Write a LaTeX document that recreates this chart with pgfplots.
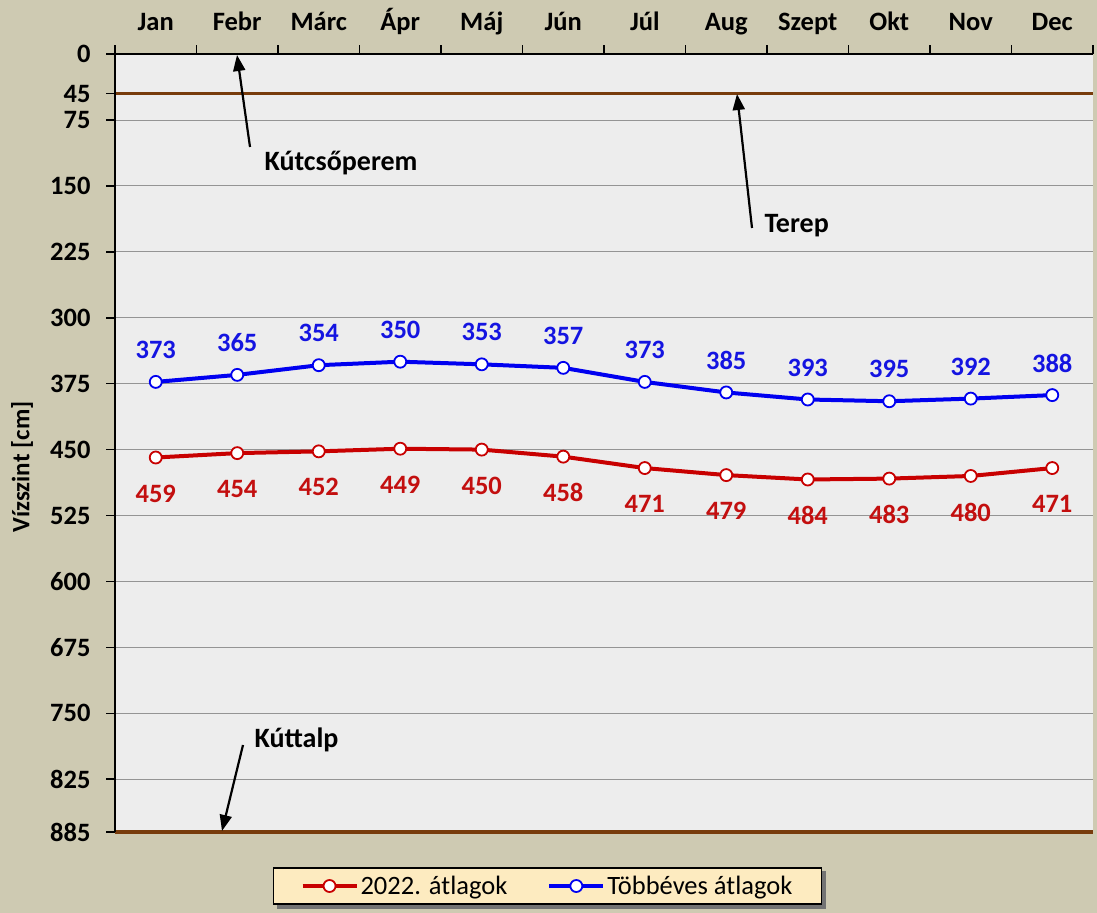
\documentclass[border=0pt]{standalone}
\usepackage{pgfplots}
\pgfplotsset{compat=1.18}
\usepackage{fontspec}
\setmainfont{Carlito}
\usetikzlibrary{arrows.meta}
\pgfdeclarelayer{bgzero}
\pgfdeclarelayer{bgone}
\pgfsetlayers{bgzero,bgone,main}
\definecolor{outerbg}{RGB}{206,202,178}
\definecolor{plotbg}{RGB}{237,237,237}
\definecolor{brownl}{RGB}{120,60,12}
\definecolor{redl}{RGB}{200,0,0}
\definecolor{redlab}{RGB}{195,15,15}
\definecolor{bluel}{RGB}{0,0,240}
\definecolor{bluelab}{RGB}{20,20,225}
\definecolor{legbg}{RGB}{253,235,192}
\newcommand\fs{\fontsize{26.5bp}{30bp}\selectfont}
\newcommand\fa{\fontsize{28bp}{32bp}\selectfont}
\begin{document}
\begin{tikzpicture}
\begin{pgfonlayer}{bgzero}
\fill[outerbg] (-115bp,-81bp) rectangle (982bp,832bp);
\end{pgfonlayer}
\begin{axis}[
  scale only axis, width=978bp, height=778bp,
  at={(0,0)}, anchor=south west,
  xmin=0.5, xmax=12.5, ymin=0, ymax=885, y dir=reverse,
  clip=false,
  axis background/.style={fill=plotbg},
  axis line style={draw=none},
  xtick={1,...,12},
  xticklabels={Jan,Febr,Márc,Ápr,Máj,Jún,Júl,Aug,Szept,Okt,Nov,Dec},
  xtick pos=upper, xticklabel pos=upper,
  xtick style={draw=none},
  xticklabel style={yshift=9bp, text height=0.7em, text depth=0.2em},
  extra x ticks={0.5,1.5,...,12.5},
  extra x tick labels={},
  extra x tick style={grid=none, xtick style={draw=black,line width=1.6bp}},
  ytick={0,45,75,150,225,300,375,450,525,600,675,750,825,885},
  ytick pos=left,
  tick align=outside,
  major tick length=9bp,
  ytick style={line width=1.6bp, black},
  yticklabel style={xshift=-12bp},
  ymajorgrids,
  major grid style={line width=0.8bp, black!42},
  tick label style={font=\fs\bfseries},
  /pgf/number format/assume math mode=true,
  legend columns=2,
  legend cell align=left,
  legend style={at={(axis description cs:0.4422,-0.0694)}, anchor=center, name=leg,
    fill=legbg, draw=black, line width=1.5bp, font=\fs,
    inner xsep=27bp, inner ysep=6bp,
    /tikz/every even column/.append style={column sep=38bp}},
  legend image code/.code={\draw[mark repeat=2,mark phase=2,#1] plot coordinates {(0bp,0bp) (27bp,0bp) (54bp,0bp)};},
]
\draw[brownl, line width=3.5bp] (axis cs:0.5,45) -- (axis cs:12.5,45);
\draw[brownl, line width=4bp] (axis cs:0.5,885) -- (axis cs:12.5,885);
\draw[black, line width=2.5bp] (axis cs:0.5,885) -- (axis cs:0.5,0) -- (axis cs:12.5,0);
\addplot[redl, line width=4bp, mark=*, mark size=6bp, mark options={fill=white, draw=redl, line width=1.8bp},
  point meta=y, nodes near coords,
  every node near coord/.append style={font=\fs\bfseries, text=redlab, anchor=center, yshift=-36bp}]
  coordinates {(1,459) (2,454) (3,452) (4,449) (5,450) (6,458) (7,471) (8,479) (9,484) (10,483) (11,480) (12,471)};
\addlegendentry{2022. átlagok}
\addplot[bluel, line width=4bp, mark=*, mark size=6bp, mark options={fill=white, draw=bluel, line width=1.8bp},
  point meta=y, nodes near coords,
  every node near coord/.append style={font=\fs\bfseries, text=bluelab, anchor=center, yshift=32bp}]
  coordinates {(1,373) (2,365) (3,354) (4,350) (5,353) (6,357) (7,373) (8,385) (9,393) (10,395) (11,392) (12,388)};
\addlegendentry{Többéves átlagok}
\end{axis}
\begin{pgfonlayer}{bgone}
\fill[black!55] ([shift={(4bp,-4bp)}]leg.south west) rectangle ([shift={(4bp,-4bp)}]leg.north east);
\end{pgfonlayer}
\draw[-{Triangle[length=16bp,width=12bp]}, line width=2.2bp] (135bp,685bp) -- (122bp,777bp);
\node[anchor=west, font=\fa\bfseries] at (146bp,669bp) {Kútcsőperem};
\draw[-{Triangle[length=16bp,width=12bp]}, line width=2.2bp] (637bp,604bp) -- (622bp,738bp);
\node[anchor=west, font=\fa\bfseries] at (646bp,606bp) {Terep};
\draw[-{Triangle[length=16bp,width=12bp]}, line width=2.2bp] (128bp,87bp) -- (107bp,1bp);
\node[anchor=west, font=\fa\bfseries] at (136bp,92bp) {Kúttalp};
\node[rotate=90, font=\fontsize{25bp}{29bp}\selectfont\bfseries] at (-93bp,365bp) {Vízszint [cm]};
\pgfresetboundingbox
\useasboundingbox (-115bp,-81bp) rectangle (982bp,832bp);
\end{tikzpicture}
\end{document}
